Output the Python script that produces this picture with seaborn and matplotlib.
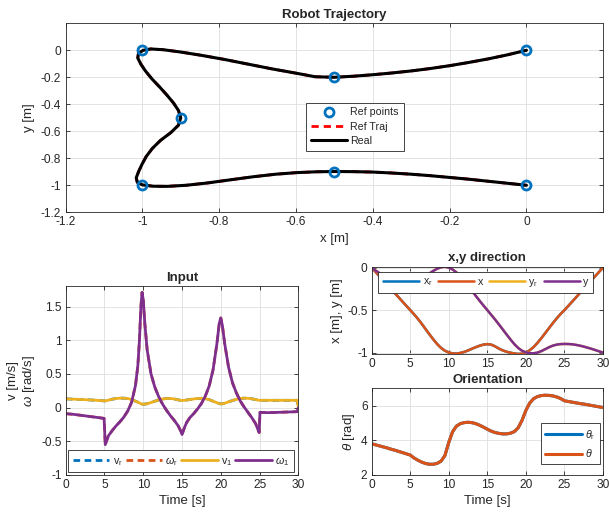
import seaborn as sns
import matplotlib.pyplot as plt
from matplotlib.ticker import FuncFormatter

# reference way points
ref_x = [0, -0.5, -1, -0.9, -1, -0.5, 0]
ref_y = [0, -0.2, 0, -0.5, -1, -0.9, -1]

# robot state, every 0.5 s
t = [0, 0.5, 1, 1.5, 2, 2.5, 3, 3.5, 4, 4.5, 5, 5.5, 6, 6.5, 7, 7.5, 8, 8.5, 9, 9.5,
     10, 10.5, 11, 11.5, 12, 12.5, 13, 13.5, 14, 14.5, 15, 15.5, 16, 16.5, 17, 17.5,
     18, 18.5, 19, 19.5, 20, 20.5, 21, 21.5, 22, 22.5, 23, 23.5, 24, 24.5, 25, 25.5,
     26, 26.5, 27, 27.5, 28, 28.5, 29, 29.5, 30]
x_pos = [0.0, -0.05, -0.1, -0.15, -0.2, -0.25, -0.3, -0.35, -0.4, -0.45, -0.5, -0.55,
         -0.603, -0.662, -0.724, -0.786, -0.845, -0.9, -0.945, -0.978, -0.998, -1.01,
         -1.012, -1.004, -0.992, -0.975, -0.955, -0.936, -0.919, -0.906, -0.9, -0.906,
         -0.926, -0.953, -0.974, -0.99, -1.001, -1.01, -1.016, -1.013, -1.0, -0.972,
         -0.935, -0.886, -0.831, -0.772, -0.712, -0.653, -0.597, -0.546, -0.5, -0.451,
         -0.401, -0.351, -0.3, -0.25, -0.2, -0.15, -0.1, -0.05, 0.0]
y_pos = [0.0, -0.034, -0.064, -0.09, -0.114, -0.135, -0.153, -0.168, -0.181, -0.192,
         -0.2, -0.196, -0.168, -0.138, -0.103, -0.068, -0.038, -0.013, 0.004, 0.01,
         0.0, -0.022, -0.057, -0.102, -0.153, -0.212, -0.272, -0.332, -0.39, -0.446,
         -0.5, -0.555, -0.61, -0.668, -0.727, -0.787, -0.845, -0.9, -0.945, -0.978,
         -0.997, -1.007, -1.008, -1.0, -0.983, -0.96, -0.937, -0.918, -0.906, -0.9,
         -0.898, -0.899, -0.902, -0.909, -0.918, -0.929, -0.942, -0.955, -0.97, -0.985, -1.0]
theta = [3.8, 3.74, 3.68, 3.62, 3.56, 3.49, 3.43, 3.36, 3.29, 3.22, 3.15, 2.98, 2.85,
         2.74, 2.66, 2.62, 2.62, 2.67, 2.8, 3.12, 3.88, 4.5, 4.82, 4.96, 5.02, 5.04,
         5.02, 4.96, 4.87, 4.76, 4.64, 4.53, 4.45, 4.4, 4.37, 4.37, 4.41, 4.5, 4.72,
         5.15, 5.72, 6.15, 6.4, 6.52, 6.58, 6.6, 6.59, 6.56, 6.5, 6.41, 6.28, 6.24,
         6.2, 6.16, 6.12, 6.09, 6.05, 6.01, 5.97, 5.93, 5.89]

# control inputs
t_in = [0, 1, 2, 3, 4, 4.95, 5.1, 5.5, 6, 6.5, 7, 7.5, 8, 8.5, 9, 9.3, 9.5, 9.7, 9.85,
        10, 10.2, 10.5, 11, 11.5, 12, 12.5, 13, 13.5, 14, 14.5, 14.8, 15, 15.3, 15.6,
        16, 16.5, 17, 17.5, 18, 18.5, 19, 19.5, 19.8, 20, 20.2, 20.5, 21, 21.5, 22,
        22.5, 23, 23.5, 24, 24.5, 24.8, 24.95, 25.05, 26, 27, 28, 29, 29.85, 30]
v_in = [0.13, 0.125, 0.12, 0.115, 0.108, 0.1, 0.1, 0.11, 0.125, 0.135, 0.14, 0.14,
        0.135, 0.12, 0.095, 0.08, 0.07, 0.058, 0.052, 0.05, 0.052, 0.058, 0.075, 0.095,
        0.115, 0.128, 0.135, 0.135, 0.128, 0.115, 0.108, 0.105, 0.108, 0.113, 0.12,
        0.128, 0.135, 0.138, 0.132, 0.118, 0.095, 0.072, 0.06, 0.055, 0.057, 0.065,
        0.085, 0.105, 0.122, 0.135, 0.14, 0.138, 0.13, 0.12, 0.112, 0.108, 0.108,
        0.108, 0.108, 0.108, 0.108, 0.108, 0.0]
w_in = [-0.09, -0.1, -0.115, -0.13, -0.145, -0.16, -0.55, -0.42, -0.34, -0.27, -0.21,
        -0.14, -0.05, 0.08, 0.33, 0.62, 0.98, 1.5, 1.71, 1.6, 1.25, 0.86, 0.5, 0.3,
        0.16, 0.05, -0.04, -0.12, -0.19, -0.27, -0.34, -0.4, -0.3, -0.22, -0.15, -0.09,
        -0.02, 0.06, 0.17, 0.32, 0.56, 0.95, 1.25, 1.33, 1.22, 0.95, 0.6, 0.37, 0.22,
        0.1, 0.01, -0.07, -0.15, -0.24, -0.33, -0.37, -0.07, -0.075, -0.072, -0.068,
        -0.064, -0.06, 0.0]

BLUE, ORANGE, YELLOW, PURPLE = "#0072BD", "#D95319", "#EDB120", "#7E2F8E"
DARK = "#262626"

sns.set_theme(style="whitegrid")
plt.rcParams.update({
    "axes.edgecolor": DARK,
    "axes.linewidth": 0.6,
    "axes.titlesize": 9.5,
    "axes.titleweight": "bold",
    "axes.titlepad": 4,
    "axes.labelsize": 9.5,
    "axes.labelcolor": DARK,
    "axes.unicode_minus": False,
    "grid.color": "#dedede",
    "grid.linewidth": 0.6,
    "xtick.labelsize": 8.6,
    "ytick.labelsize": 8.6,
    "xtick.color": DARK,
    "ytick.color": DARK,
    "legend.fontsize": 7.7,
    "mathtext.fontset": "custom",
    "mathtext.rm": "Liberation Sans",
    "mathtext.it": "Liberation Sans:italic",
})
plt.rcParams["font.family"] = ["Liberation Sans", "DejaVu Sans"]

fmt = FuncFormatter(lambda v, p: f"{round(v, 6) + 0.0:g}")


def style(ax):
    ax.tick_params(direction="in", length=3, width=0.6, top=True, right=True,
                   bottom=True, left=True, pad=3)
    ax.xaxis.set_major_formatter(fmt)
    ax.yaxis.set_major_formatter(fmt)
    ax.grid(True)
    for s in ax.spines.values():
        s.set_visible(True)


def box_legend(ax, handles, labels, **kw):
    leg = ax.legend(handles, labels, fancybox=False, framealpha=1, edgecolor=DARK,
                    borderaxespad=0, handlelength=3.4, handletextpad=0.3, **kw)
    leg.get_frame().set_linewidth(0.6)
    return leg


fig = plt.figure(figsize=(6.09, 5.13), dpi=100)

# 1) robot trajectory
ax = fig.add_axes([0.1076, 0.5862, 0.883, 0.3684])
sns.lineplot(x=x_pos, y=y_pos, ax=ax, sort=False, estimator=None, color="red",
             lw=2, ls=(0, (2.6, 1.8)), label="Ref Traj")
sns.lineplot(x=x_pos, y=y_pos, ax=ax, sort=False, estimator=None, color="black",
             lw=2.2, label="Real")
sns.lineplot(x=ref_x, y=ref_y, ax=ax, sort=False, estimator=None, marker="o", ls="",
             mfc="none", mec=BLUE, mew=2, ms=6.5, label="Ref points", zorder=5)
ax.set_xlim(-1.2, 0.2)
ax.set_ylim(-1.2, 0.2)
ax.set_xticks([-1.2, -1, -0.8, -0.6, -0.4, -0.2, 0])
ax.set_yticks([-1.2, -1, -0.8, -0.6, -0.4, -0.2, 0])
style(ax)
ax.set_title("Robot Trajectory")
ax.set_xlabel("x [m]", labelpad=3)
ax.set_ylabel("y [m]", labelpad=4)
h, l = ax.get_legend_handles_labels()
box_legend(ax, [h[2], h[0], h[1]], [l[2], l[0], l[1]], loc="upper left",
           bbox_to_anchor=(0.447, 0.58), labelspacing=0.4, borderpad=0.45)

# 2) inputs
ax = fig.add_axes([0.1079, 0.0741, 0.382, 0.3678])
sns.lineplot(x=t_in, y=v_in, ax=ax, estimator=None, color=BLUE, lw=2,
             ls=(0, (2.4, 1.6)), label=r"v$_{\rm r}$")
sns.lineplot(x=t_in, y=w_in, ax=ax, estimator=None, color=ORANGE, lw=2,
             ls=(0, (2.4, 1.6)), label=r"$\omega_{\rm r}$")
sns.lineplot(x=t_in, y=v_in, ax=ax, estimator=None, color=YELLOW, lw=2,
             label=r"v$_{\rm 1}$")
sns.lineplot(x=t_in, y=w_in, ax=ax, estimator=None, color=PURPLE, lw=2,
             label=r"$\omega_{\rm 1}$")
ax.set_xlim(0, 30)
ax.set_ylim(-1, 1.8)
ax.set_xticks([0, 5, 10, 15, 20, 25, 30])
ax.set_yticks([-1, -0.5, 0, 0.5, 1, 1.5])
style(ax)
ax.set_title("Input")
ax.set_xlabel("Time [s]", labelpad=3)
ax.set_ylabel("v [m/s]\n$\\omega$ [rad/s]", labelpad=3)
h, l = ax.get_legend_handles_labels()
box_legend(ax, h, l, loc="lower left", ncol=4, mode="expand",
           bbox_to_anchor=(0.011, 0.014, 0.97, 0.124), columnspacing=0.6, borderpad=0.45)

# 3) x, y vs time
ax = fig.add_axes([0.6103, 0.31, 0.3798, 0.170])
sns.lineplot(x=t, y=x_pos, ax=ax, estimator=None, color=BLUE, lw=1.8, label=r"x$_{\rm r}$")
sns.lineplot(x=t, y=x_pos, ax=ax, estimator=None, color=ORANGE, lw=1.8, label="x")
sns.lineplot(x=t, y=y_pos, ax=ax, estimator=None, color=YELLOW, lw=1.8, label=r"y$_{\rm r}$")
sns.lineplot(x=t, y=y_pos, ax=ax, estimator=None, color=PURPLE, lw=1.8, label="y")
ax.set_xlim(0, 30)
ax.set_ylim(min(x_pos + y_pos), max(x_pos + y_pos))
ax.set_xticks([0, 5, 10, 15, 20, 25, 30])
ax.set_yticks([-1, -0.5, 0])
style(ax)
ax.set_title("x,y direction")
ax.set_ylabel("x [m], y [m]", labelpad=3)
h, l = ax.get_legend_handles_labels()
box_legend(ax, h, l, loc="lower left", ncol=4, mode="expand",
           bbox_to_anchor=(0.0285, 0.695, 0.93, 0.275), columnspacing=0.6, borderpad=0.45)

# 4) orientation
ax = fig.add_axes([0.6103, 0.0741, 0.3798, 0.169])
sns.lineplot(x=t, y=theta, ax=ax, estimator=None, color=BLUE, lw=2.2, label=r"$\theta_{\rm r}$")
sns.lineplot(x=t, y=theta, ax=ax, estimator=None, color=ORANGE, lw=2.2, label=r"$\theta$")
ax.set_xlim(0, 30)
ax.set_ylim(2, 7)
ax.set_xticks([0, 5, 10, 15, 20, 25, 30])
ax.set_yticks([2, 4, 6])
style(ax)
ax.set_title("Orientation")
ax.set_xlabel("Time [s]", labelpad=3)
ax.set_ylabel(r"$\theta$ [rad]", labelpad=3)
h, l = ax.get_legend_handles_labels()
box_legend(ax, h, l, loc="upper left", bbox_to_anchor=(0.73, 0.596),
           labelspacing=0.5, borderpad=0.45)

fig.savefig("out.png", dpi=100)
